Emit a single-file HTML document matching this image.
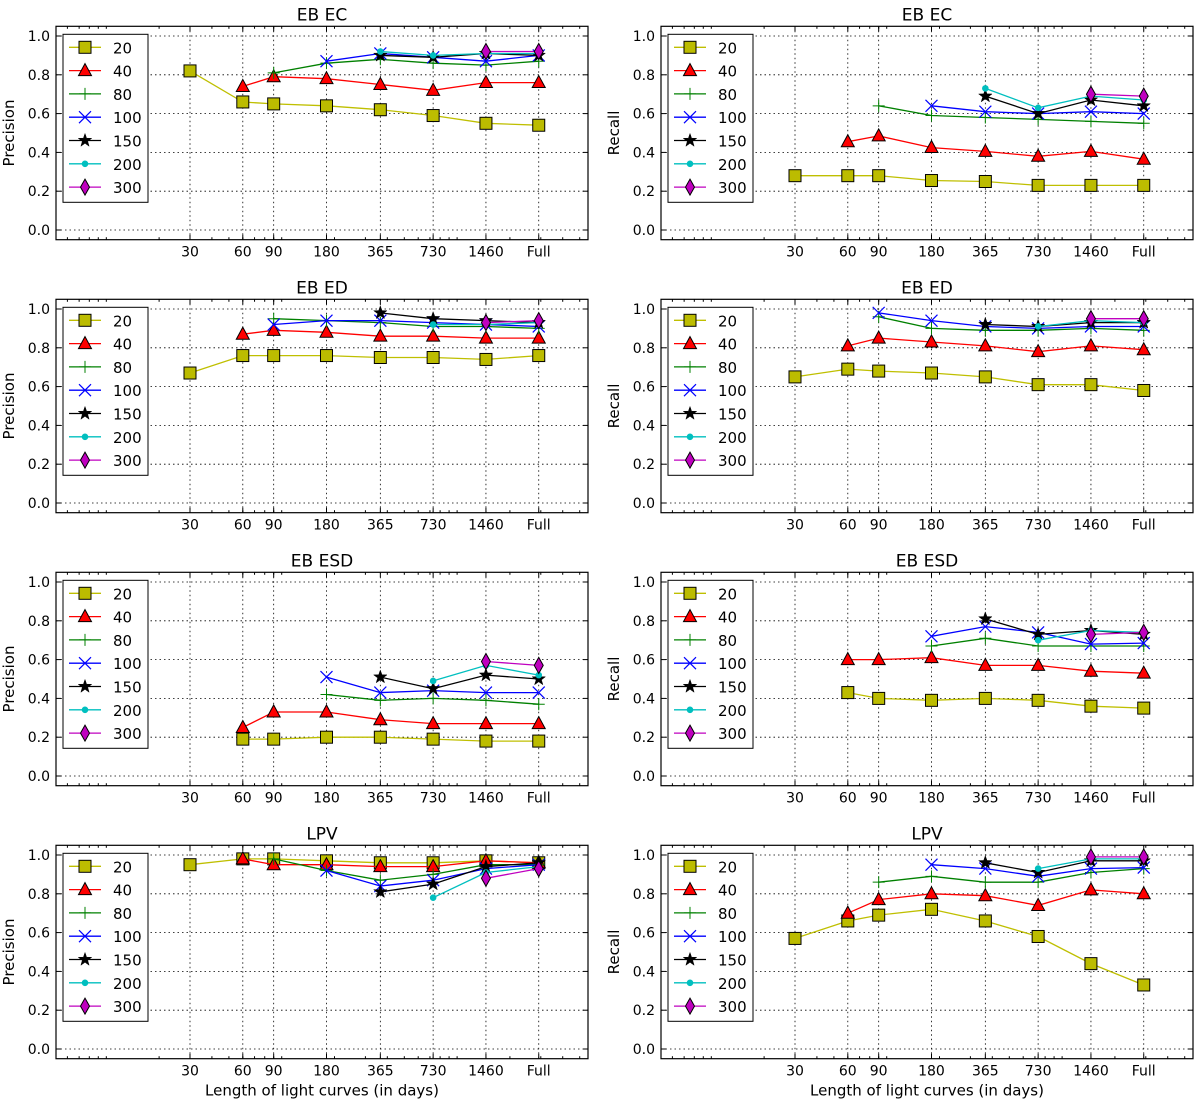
<!DOCTYPE html>
<html><head><meta charset="utf-8"><style>
html,body{margin:0;padding:0;background:#fff}
svg{display:block;font-family:"DejaVu Sans","Liberation Sans",sans-serif}
</style></head><body>
<svg id="fig" width="1200" height="1104" viewBox="0 0 1200 1104" xmlns="http://www.w3.org/2000/svg"></svg>
<script>
const xCategories = ["30","60","90","180","365","730","1460","Full"];
const xDays = [30,60,90,180,365,730,1460,2920];
const seriesNames = ["20","40","80","100","150","200","300"];
const panelTitles = ["EB EC","EB EC","EB ED","EB ED","EB ESD","EB ESD","LPV","LPV"];
const panelYLabels = ["Precision","Recall","Precision","Recall","Precision","Recall","Precision","Recall"];
const yTicks = [0.0,0.2,0.4,0.6,0.8,1.0];
const N = null;
// panel 1: EB EC precision
const p1 = [
 [.82,.66,.65,.64,.62,.59,.55,.54],
 [N,.74,.79,.78,.75,.72,.76,.76],
 [N,N,.81,.86,.88,.86,.85,.87],
 [N,N,N,.87,.91,.89,.87,.90],
 [N,N,N,N,.90,.89,.91,.90],
 [N,N,N,N,.92,.90,.91,.91],
 [N,N,N,N,N,N,.92,.92]];
const p2 = [
 [.28,.28,.28,.255,.25,.23,.23,.23],
 [N,.455,.485,.425,.405,.38,.405,.365],
 [N,N,.64,.59,.58,.57,.56,.55],
 [N,N,N,.64,.61,.60,.61,.60],
 [N,N,N,N,.69,.60,.67,.64],
 [N,N,N,N,.73,.63,.69,.67],
 [N,N,N,N,N,N,.70,.69]];
const p3 = [
 [.67,.76,.76,.76,.75,.75,.74,.76],
 [N,.87,.89,.88,.86,.86,.85,.85],
 [N,N,.95,.94,.93,.91,.91,.90],
 [N,N,.92,.94,.94,.93,.92,.91],
 [N,N,N,N,.98,.95,.94,.93],
 [N,N,N,N,N,.92,.92,.93],
 [N,N,N,N,N,N,.93,.94]];
const p4 = [
 [.65,.69,.68,.67,.65,.61,.61,.58],
 [N,.81,.85,.83,.81,.78,.81,.79],
 [N,N,.96,.90,.89,.89,.90,.89],
 [N,N,.98,.94,.91,.90,.91,.91],
 [N,N,N,N,.92,.91,.93,.93],
 [N,N,N,N,N,.91,.94,.93],
 [N,N,N,N,N,N,.95,.95]];
const p5 = [
 [N,.19,.19,.20,.20,.19,.18,.18],
 [N,.25,.33,.33,.29,.27,.27,.27],
 [N,N,N,.42,.39,.40,.39,.37],
 [N,N,N,.51,.43,.44,.43,.43],
 [N,N,N,N,.51,.45,.52,.50],
 [N,N,N,N,N,.49,.57,.52],
 [N,N,N,N,N,N,.59,.57]];
const p6 = [
 [N,.43,.40,.39,.40,.39,.36,.35],
 [N,.60,.60,.61,.57,.57,.54,.53],
 [N,N,N,.67,.71,.67,.67,.67],
 [N,N,N,.72,.77,.74,.68,.685],
 [N,N,N,N,.81,.73,.75,.73],
 [N,N,N,N,N,.70,.75,.74],
 [N,N,N,N,N,N,.73,.74]];
const p7 = [
 [.95,.98,.98,.97,.96,.96,.97,.96],
 [N,.98,.95,.95,.94,.94,.97,.96],
 [N,N,.98,.92,.87,.90,.95,.95],
 [N,N,N,.92,.84,.87,.93,.95],
 [N,N,N,N,.81,.85,.94,.96],
 [N,N,N,N,N,.78,.91,.94],
 [N,N,N,N,N,N,.88,.93]];
const p8 = [
 [.57,.66,.69,.72,.66,.58,.44,.33],
 [N,.70,.77,.80,.79,.74,.82,.80],
 [N,N,.86,.89,.86,.86,.91,.93],
 [N,N,N,.95,.93,.89,.93,.935],
 [N,N,N,N,.96,.91,.97,.97],
 [N,N,N,N,N,.93,.98,.98],
 [N,N,N,N,N,N,.99,.99]];
const panelData = [p1,p2,p3,p4,p5,p6,p7,p8];

const colors = ["#bfbf00","#ff0000","#008000","#0000ff","#000000","#00bfbf","#bf00bf"];
const NS = "http://www.w3.org/2000/svg";
const svg = document.getElementById("fig");
function mk(tag, attrs, parent){const e=document.createElementNS(NS,tag);for(const k in attrs)e.setAttribute(k,attrs[k]);(parent||svg).appendChild(e);return e;}

function marker(g, k, cx, cy){
  const c = colors[k]; let m;
  if(k===0){ m=mk("rect",{x:cx-6,y:cy-6,width:12,height:12,fill:"#bcbc00",stroke:"#000","stroke-width":1},g); }
  else if(k===1){ m=mk("polygon",{points:`${cx},${cy-7} ${cx+6.5},${cy+5} ${cx-6.5},${cy+5}`,fill:"#ff0000",stroke:"#000","stroke-width":1},g); }
  else if(k===2){ m=mk("path",{d:`M${cx-6},${cy}H${cx+6}M${cx},${cy-6}V${cy+6}`,stroke:c,"stroke-width":1,fill:"none"},g); }
  else if(k===3){ m=mk("path",{d:`M${cx-6},${cy-6}L${cx+6},${cy+6}M${cx-6},${cy+6}L${cx+6},${cy-6}`,stroke:c,"stroke-width":1.2,fill:"none"},g); }
  else if(k===4){ let p=[];for(let i=0;i<10;i++){const r=i%2?2.8:7;const a=-Math.PI/2+i*Math.PI/5;p.push((cx+r*Math.cos(a)).toFixed(1)+","+(cy+r*Math.sin(a)).toFixed(1));}
    m=mk("polygon",{points:p.join(" "),fill:"#000",stroke:"#000","stroke-width":0.5},g); }
  else if(k===5){ m=mk("circle",{cx:cx,cy:cy,r:2.8,fill:c,stroke:c},g); }
  else { m=mk("polygon",{points:`${cx},${cy-8} ${cx+4.5},${cy} ${cx},${cy+8} ${cx-4.5},${cy}`,fill:c,stroke:"#000","stroke-width":1},g); }
  return m;
}

const pxPerDecade = 175.4;
for(let p=0;p<8;p++){
  const col=p%2, row=Math.floor(p/2);
  const fx = col?661:56, fw = 532;
  const y0 = 230+273*row;
  const xS = d => fx+134+pxPerDecade*Math.log10(d/30);
  const yS = v => y0-194*v;
  const top=yS(1.05), bot=yS(-0.05);
  const g = mk("g",{});
  
  
  // grid
  xDays.forEach((d,i)=>{const l=mk("line",{x1:xS(d),x2:xS(d),y1:top,y2:bot,stroke:"#000","stroke-width":0.8,"stroke-dasharray":"1.5,3"},g);
    
    const t=mk("text",{x:xS(d),y:bot+17,"font-size":14,"text-anchor":"middle"},g);t.textContent=xCategories[i];
    
    mk("line",{x1:xS(d),x2:xS(d),y1:bot,y2:bot-5,stroke:"#000"},g);mk("line",{x1:xS(d),x2:xS(d),y1:top,y2:top+5,stroke:"#000"},g);});
  yTicks.forEach(v=>{const l=mk("line",{x1:fx,x2:fx+fw,y1:yS(v),y2:yS(v),stroke:"#000","stroke-width":0.8,"stroke-dasharray":"1.5,3"},g);
    
    mk("line",{x1:fx,x2:fx+5,y1:yS(v),y2:yS(v),stroke:"#000"},g);mk("line",{x1:fx+fw,x2:fx+fw-5,y1:yS(v),y2:yS(v),stroke:"#000"},g);
    const t=mk("text",{x:fx-6,y:yS(v)+5,"font-size":14,"text-anchor":"end"},g);t.textContent=v.toFixed(1);
    });
  // minor log ticks
  for(let e=0;e<4;e++)for(let m=1;m<10;m++){const d=m*Math.pow(10,e);const x=xS(d);if(x<fx+1||x>fx+fw-1)continue;
    mk("line",{x1:x,x2:x,y1:bot,y2:bot-2.5,stroke:"#000"},g);mk("line",{x1:x,x2:x,y1:top,y2:top+2.5,stroke:"#000"},g);}
  // series
  const data=panelData[p];
  data.forEach((vals,k)=>{
    const sg=mk("g",{},g);
    
    
    let pts=[];vals.forEach((v,i)=>{if(v!==null)pts.push([xS(xDays[i]),yS(v)]);});
    const ln=mk("polyline",{points:pts.map(q=>q[0].toFixed(1)+","+q[1].toFixed(1)).join(" "),fill:"none",stroke:colors[k],"stroke-width":1.3},sg);
    
    pts.forEach(q=>{const mm=marker(sg,k,q[0],q[1]);});
  });
  // frame
  const fr=mk("rect",{x:fx,y:top,width:fw,height:bot-top,fill:"none",stroke:"#000","stroke-width":1.2},g);
  
  // title
  const tt=mk("text",{x:fx+fw/2,y:top-6,"font-size":17,"text-anchor":"middle"},g);tt.textContent=panelTitles[p];
  
  const yl=mk("text",{x:0,y:0,"font-size":15,"text-anchor":"middle",transform:`translate(${fx-42},${yS(0.5)}) rotate(-90)`},g);yl.textContent=panelYLabels[p];
  
  if(row===3){const xl=mk("text",{x:fx+fw/2,y:bot+37,"font-size":15,"text-anchor":"middle"},g);xl.textContent="Length of light curves (in days)";
    }
  // legend
  const lg=mk("g",{},g);
  
  
  const lx=fx+7, ly=top+8;
  mk("rect",{x:lx,y:ly,width:85,height:168,fill:"#fff",stroke:"#000","stroke-width":1},lg);
  seriesNames.forEach((s,k)=>{const yy=ly+13+k*23.3;
    const en=mk("g",{},lg);
    
    
    mk("line",{x1:lx+6,x2:lx+38,y1:yy,y2:yy,stroke:colors[k],"stroke-width":1.3},en);
    marker(en,k,lx+22,yy);
    const t=mk("text",{x:lx+50,y:yy+6,"font-size":15},en);t.textContent=s;});
}
</script>
</body></html>
